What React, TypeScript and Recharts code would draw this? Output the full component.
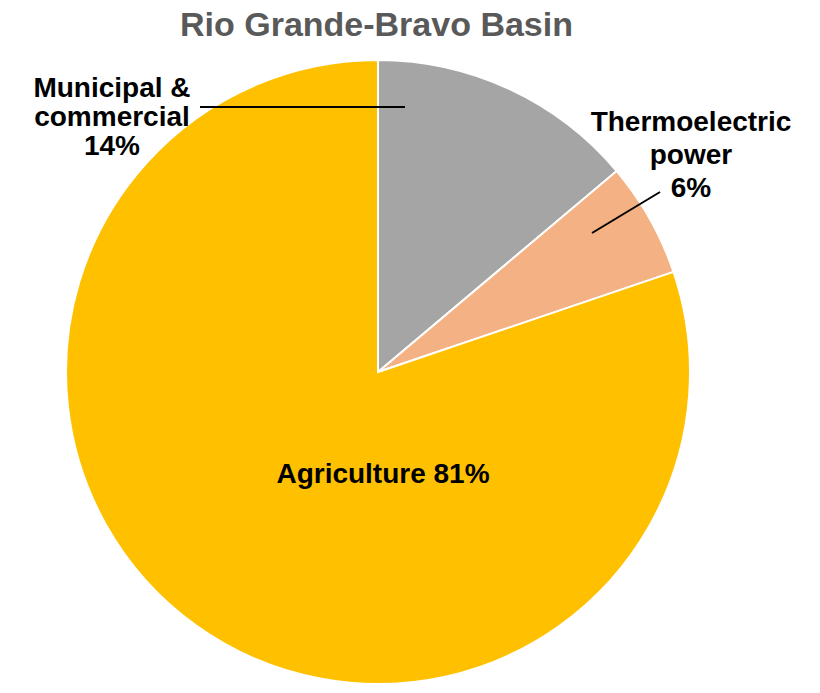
import { PieChart, Pie, Cell } from 'recharts'

const sectors = ['Municipal & commercial', 'Thermoelectric power', 'Agriculture']
const shares = [14, 6, 81]
const sliceColors = ['#A5A5A5', '#F4B183', '#FFC000']

// label text lines per sector, the last line gets the percentage appended
const labelLines: Record<string, string[]> = {
    'Municipal & commercial': ['Municipal &', 'commercial', ''],
    'Thermoelectric power': ['Thermoelectric', 'power', ''],
    'Agriculture': ['Agriculture '],
}

// label placement relative to the pie centre (px)
const labelLayout: Record<string, { dx: number; dy: number; lh: number; leader?: [number, number, number, number] }> = {
    'Municipal & commercial': { dx: -266, dy: -275, lh: 29, leader: [-178, -265, 27, -265] },
    'Thermoelectric power': { dx: 313, dy: -241, lh: 33, leader: [282, -180, 214, -139] },
    'Agriculture': { dx: 5, dy: 111, lh: 0 },
}

const data = sectors.map((name, i) => ({ name, value: shares[i] }))

const FONT = '"Liberation Sans", Arial, sans-serif'

function renderLabel(props: any) {
    const { cx, cy, name, value } = props
    const layout = labelLayout[name]
    const lines = labelLines[name].slice()
    lines[lines.length - 1] = lines[lines.length - 1] + `${value}%`
    return (
        <g key={`label-${name}`}>
            {layout.leader && (
                <line
                    x1={cx + layout.leader[0]}
                    y1={cy + layout.leader[1]}
                    x2={cx + layout.leader[2]}
                    y2={cy + layout.leader[3]}
                    stroke="#000"
                    strokeWidth={2}
                />
            )}
            {lines.map((t, i) => (
                <text
                    key={i}
                    x={cx + layout.dx}
                    y={cy + layout.dy + i * layout.lh}
                    textAnchor="middle"
                    fill="#000"
                    fontFamily={FONT}
                    fontWeight="bold"
                    fontSize={28}
                >
                    {t}
                </text>
            ))}
        </g>
    )
}

export default function App() {
    return (
        <div style={{ position: 'absolute', left: 0, top: 0, width: 820, height: 693, background: '#fff' }}>
            <div
                style={{
                    position: 'absolute',
                    left: 0,
                    top: 5,
                    width: 753,
                    textAlign: 'center',
                    fontFamily: FONT,
                    fontWeight: 'bold',
                    fontSize: 34,
                    color: '#595959',
                    lineHeight: '38px',
                }}
            >
                Rio Grande-Bravo Basin
            </div>
            <PieChart width={820} height={693} margin={{ top: 0, right: 0, bottom: 0, left: 0 }}>
                <Pie
                    data={data}
                    dataKey="value"
                    nameKey="name"
                    cx={378}
                    cy={372}
                    outerRadius={312}
                    startAngle={90}
                    endAngle={-270}
                    stroke="#fff"
                    strokeWidth={2}
                    label={renderLabel}
                    labelLine={false}
                    isAnimationActive={false}
                >
                    {data.map((entry, i) => (
                        <Cell key={`cell-${entry.name}`} fill={sliceColors[i]} />
                    ))}
                </Pie>
            </PieChart>
        </div>
    )
}
